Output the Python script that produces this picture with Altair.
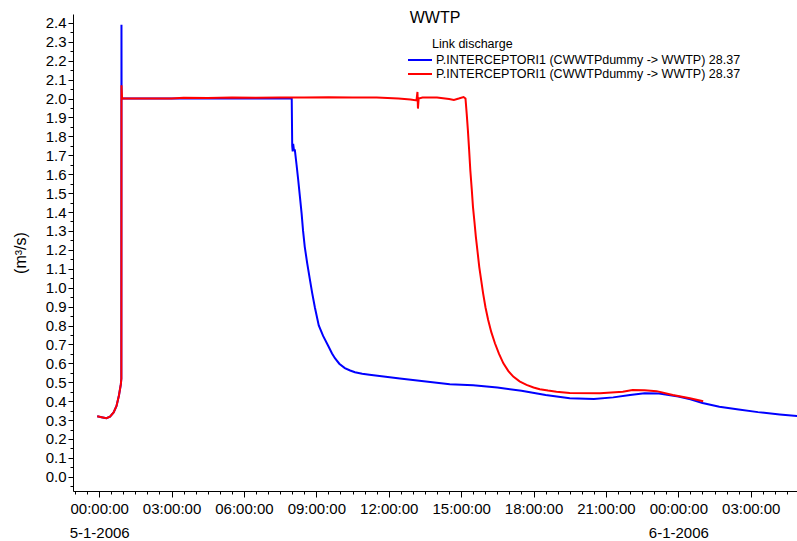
import altair as alt
import pandas as pd

# ---- data (hours after 5-1-2006 00:00:00, discharge in m3/s) ----
blue_hours = [-0.08, 0.1, 0.3, 0.45, 0.6, 0.72, 0.82, 0.9, 0.92, 0.925, 0.93, 4.0, 7.98,
              8.0, 8.02, 8.04, 8.07, 8.11, 8.18, 8.25, 8.32, 8.39, 8.45, 8.52, 8.62, 8.73,
              8.83, 8.94, 9.1, 9.28, 9.5, 9.65, 9.77, 9.95, 10.18, 10.4, 10.6, 10.9, 11.2,
              12.46, 14.53, 15.5, 16.5, 17.5, 18.5, 19.5, 20.5,
              21.3, 22.0, 22.6, 23.2, 24.0, 24.5, 25.0, 25.7, 26.5, 27.3, 28.2, 28.92]
blue_values = [0.32, 0.315, 0.31, 0.318, 0.34, 0.375, 0.43, 0.49, 0.52, 2.39, 2.0, 2.0, 2.0,
               1.75, 1.72, 1.76, 1.73, 1.727, 1.65, 1.568, 1.48, 1.392, 1.30, 1.216, 1.13, 1.045,
               0.97, 0.895, 0.80, 0.745, 0.69, 0.652, 0.627, 0.598, 0.575, 0.562, 0.553, 0.545, 0.54,
               0.52, 0.49, 0.484, 0.472, 0.455, 0.432, 0.416, 0.412,
               0.42, 0.433, 0.442, 0.44, 0.425, 0.41, 0.39, 0.37, 0.356, 0.342, 0.33, 0.322]

red_hours = [-0.08, 0.1, 0.3, 0.45, 0.6, 0.72, 0.82, 0.9, 0.92, 0.925, 0.95, 3.0, 3.5, 4.5,
             5.5, 6.5, 7.5, 8.5, 9.5, 10.5, 11.5, 12.4, 12.9, 13.15, 13.19, 13.21, 13.24,
             13.4, 14.0, 14.5, 14.7, 14.9, 15.1, 15.18, 15.23, 15.28, 15.33, 15.38, 15.44,
             15.49, 15.55, 15.61, 15.68, 15.75, 15.83, 15.91, 16.01, 16.12, 16.25, 16.4,
             16.57, 16.75, 16.95, 17.16, 17.42, 17.71, 18.0, 18.26, 18.6, 18.95, 19.5, 20.75,
             21.7, 22.1, 22.6, 23.1, 23.77, 24.48, 25.03]
red_values = [0.32, 0.315, 0.31, 0.318, 0.34, 0.375, 0.43, 0.49, 0.52, 2.07, 2.0, 2.0, 2.004,
              2.003, 2.006, 2.004, 2.006, 2.005, 2.007, 2.005, 2.006, 2.0, 1.995, 1.99, 2.035,
              1.947, 2.0, 2.005, 2.005, 1.997, 1.993, 2.0, 2.008, 2.0, 1.92, 1.832, 1.73, 1.621,
              1.52, 1.427, 1.35, 1.269, 1.19, 1.11, 1.04, 0.97, 0.895, 0.829, 0.765, 0.706,
              0.65, 0.60, 0.56, 0.53, 0.505, 0.486, 0.472, 0.463, 0.456, 0.45, 0.443, 0.442,
              0.45, 0.459, 0.458, 0.453, 0.433, 0.415, 0.40]

series_names = ["blue", "red"]
series_colors = ["#0000ff", "#ff0000"]
legend_label = "P.INTERCEPTORI1 (CWWTPdummy -> WWTP) 28.37"
legend_title = "Link discharge"
chart_title = "WWTP"
y_title = "(m³/s)"
y_tick_values = [round(-0.05 + 0.05 * i, 2) for i in range(50)]

FONT = "Liberation Sans"
start = pd.Timestamp("2006-01-05 00:00:00")


def frame(hours, values, name):
    return pd.DataFrame({
        "time": start + pd.to_timedelta(hours, unit="h"),
        "q": values,
        "series": name,
    })


df = pd.concat([frame(blue_hours, blue_values, "blue"),
                frame(red_hours, red_values, "red")], ignore_index=True)
df["order"] = range(len(df))


def dt(ts):
    return alt.DateTime(year=ts.year, month=ts.month, date=ts.day,
                        hours=ts.hour, minutes=ts.minute)


x_ticks = [dt(t) for t in pd.date_range("2006-01-04 23:00", "2006-01-06 04:30", freq="30min")]
x_domain = [dt(pd.Timestamp("2006-01-04 22:55")), dt(pd.Timestamp("2006-01-06 04:55"))]

major_x = "minutes(datum.value) == 0 && hours(datum.value) % 3 == 0"
x_label_expr = (
    f"({major_x}) ? (hours(datum.value) == 0 ? "
    "[timeFormat(datum.value, '%H:%M:%S'), timeFormat(datum.value, '%-d-%-m-%Y')] : "
    "timeFormat(datum.value, '%H:%M:%S')) : ''"
)
major_y = "abs(datum.value * 10 - round(datum.value * 10)) < 0.001"
y_label_expr = f"({major_y}) ? format(datum.value, '.1f') : ''"

lines = alt.Chart(df).mark_line(strokeWidth=2, clip=True).encode(
    x=alt.X("time:T",
            scale=alt.Scale(domain=x_domain),
            axis=alt.Axis(values=x_ticks, labelExpr=x_label_expr, title=None,
                          tickSize={"condition": {"test": major_x, "value": 6}, "value": 3},
                          labelFont=FONT, labelFontSize=15, labelColor="black",
                          labelLineHeight=24, labelPadding=4, labelOverlap=False,
                          labelFlush=False, labelBound=False, grid=False,
                          domainColor="black", tickColor="black")),
    y=alt.Y("q:Q",
            scale=alt.Scale(domain=[-0.075, 2.447], nice=False, zero=False),
            axis=alt.Axis(values=y_tick_values, labelExpr=y_label_expr, title=y_title,
                          tickSize={"condition": {"test": major_y, "value": 5}, "value": 3},
                          labelFont=FONT, labelFontSize=15, labelColor="black",
                          labelPadding=2, labelOverlap=False, labelFlush=False,
                          titleFont=FONT, titleFontSize=16, titleFontWeight="normal",
                          titleColor="black", titlePadding=17, grid=False,
                          domainColor="black", tickColor="black")),
    color=alt.Color("series:N",
                    scale=alt.Scale(domain=series_names, range=series_colors),
                    legend=alt.Legend(title=None, orient="none", legendX=334, legendY=39,
                                      symbolType="stroke", symbolStrokeWidth=2,
                                      symbolSize=576, clipHeight=14,
                                      labelExpr=f"'{legend_label}'", labelLimit=500,
                                      labelFont=FONT, labelFontSize=12.5,
                                      labelColor="black", labelOffset=3,
                                      rowPadding=0, padding=0)),
    order="order:Q",
)

legend_head = alt.Chart(pd.DataFrame({"t": [legend_title]})).mark_text(
    align="left", baseline="middle", font=FONT, fontSize=12.5, color="black"
).encode(text="t:N", x=alt.value(359), y=alt.value(30))

chart = alt.layer(lines, legend_head).properties(
    width=724, height=477,
    title=alt.TitleParams(chart_title, font=FONT, fontSize=16, fontWeight="normal",
                          color="black", anchor="middle", frame="group", offset=-12),
    autosize=alt.AutoSizeParams(type="none"),
    padding={"left": 73, "top": 14, "right": 0, "bottom": 50},
).configure_view(stroke=None)

chart.save("out.html", embed_options={"renderer": "svg", "actions": False})
